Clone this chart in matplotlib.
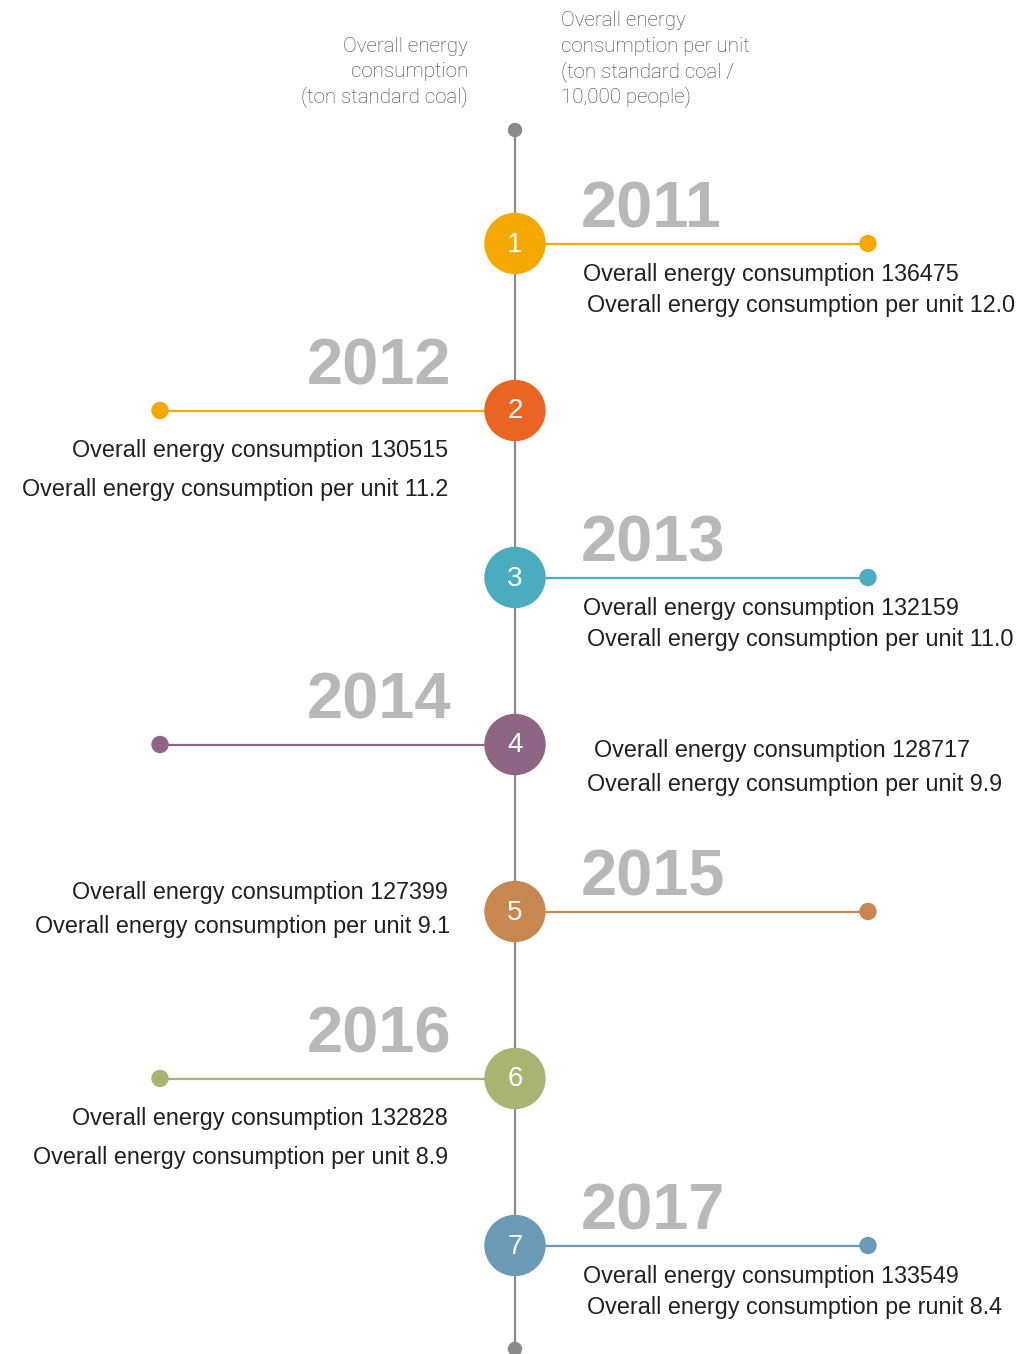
import matplotlib
matplotlib.use("Agg")
import matplotlib.pyplot as plt
from matplotlib.patches import Circle

years = ["2011", "2012", "2013", "2014", "2015", "2016", "2017"]
consumption = [136475, 130515, 132159, 128717, 127399, 132828, 133549]
per_unit = ["12.0", "11.2", "11.0", "9.9", "9.1", "8.9", "8.4"]
per_unit_prefix = ["Overall energy consumption per unit"] * 6 + ["Overall energy consumption pe runit"]
circle_colors = ["#F5A800", "#EA6523", "#4BABBF", "#8E6584", "#C8874E", "#AAB472", "#6A9AB5"]
line_colors = ["#F5A800", "#F5A800", "#4BABBF", "#8E6584", "#C8874E", "#AAB472", "#6A9AB5"]
sides = ["right", "left", "right", "left", "right", "left", "right"]
text_sides = ["right", "left", "right", "right", "left", "left", "right"]
header_left = ["Overall energy", "consumption", "(ton standard coal)"]
header_right = ["Overall energy", "consumption per unit", "(ton standard coal /", "10,000 people)"]

W, H = 1016, 1354
fig = plt.figure(figsize=(W / 100, H / 100), dpi=100)
ax = fig.add_axes([0, 0, 1, 1])
ax.set_xlim(0, W)
ax.set_ylim(H, 0)
ax.axis("off")

FONT = "Liberation Sans"
cx = 515
y0, dy = 243.5, 167
gray = "#8A8A8A"

# vertical axis line
ax.plot([cx, cx], [130, 1350], color=gray, lw=1.6, zorder=1)
ax.add_patch(Circle((cx, 130), 6.5, color=gray, zorder=2))
ax.add_patch(Circle((cx, 1349), 6.5, color=gray, zorder=2))

# header
hkw = dict(va="center", fontsize=14.8, color="#3F3F3F", family="Roboto", fontweight="light")
for i, t in enumerate(header_left):
    ax.text(468, 46 + i * 25.5, t, ha="right", **hkw)
for i, t in enumerate(header_right):
    ax.text(561, 20.5 + i * 25.5, t, ha="left", **hkw)

for i, yr in enumerate(years):
    y = y0 + i * dy
    col = circle_colors[i]
    lc = line_colors[i]
    if sides[i] == "right":
        ax.plot([cx, 868], [y, y], color=lc, lw=1.6, zorder=1)
        ax.add_patch(Circle((868, y), 8, color=lc, zorder=2))
        ax.text(581, y - 16, yr, ha="left", va="baseline", fontsize=46.8,
                fontweight="bold", color="#B8B8B8", family=FONT)
    else:
        ax.plot([160, cx], [y, y], color=lc, lw=1.6, zorder=1)
        ax.add_patch(Circle((160, y), 8, color=lc, zorder=2))
        ax.text(451, y - 26, yr, ha="right", va="baseline", fontsize=46.8,
                fontweight="bold", color="#B8B8B8", family=FONT)
    ax.add_patch(Circle((cx, y), 30, color=col, zorder=3))
    ax.text(cx, y + 1, str(i + 1), ha="center", va="center", fontsize=20,
            color="white", family=FONT, zorder=4)

    l1 = f"Overall energy consumption {consumption[i]}"
    l2 = f"{per_unit_prefix[i]} {per_unit[i]}"
    tkw = dict(va="center", fontsize=16.8, color="#231F20", family=FONT)
    if text_sides[i] == "right":
        if sides[i] == "right":
            ax.text(583, y + 31, l1, ha="left", **tkw)
            ax.text(587, y + 62, l2, ha="left", **tkw)
        else:
            ax.text(594, y + 6, l1, ha="left", **tkw)
            ax.text(587, y + 40, l2, ha="left", **tkw)
    else:
        if sides[i] == "left":
            ax.text(448, y + 40, l1, ha="right", **tkw)
            ax.text(448, y + 79, l2, ha="right", **tkw)
        else:
            ax.text(448, y - 19, l1, ha="right", **tkw)
            ax.text(450, y + 15, l2, ha="right", **tkw)

fig.savefig("out.png", dpi=100, facecolor="white")
